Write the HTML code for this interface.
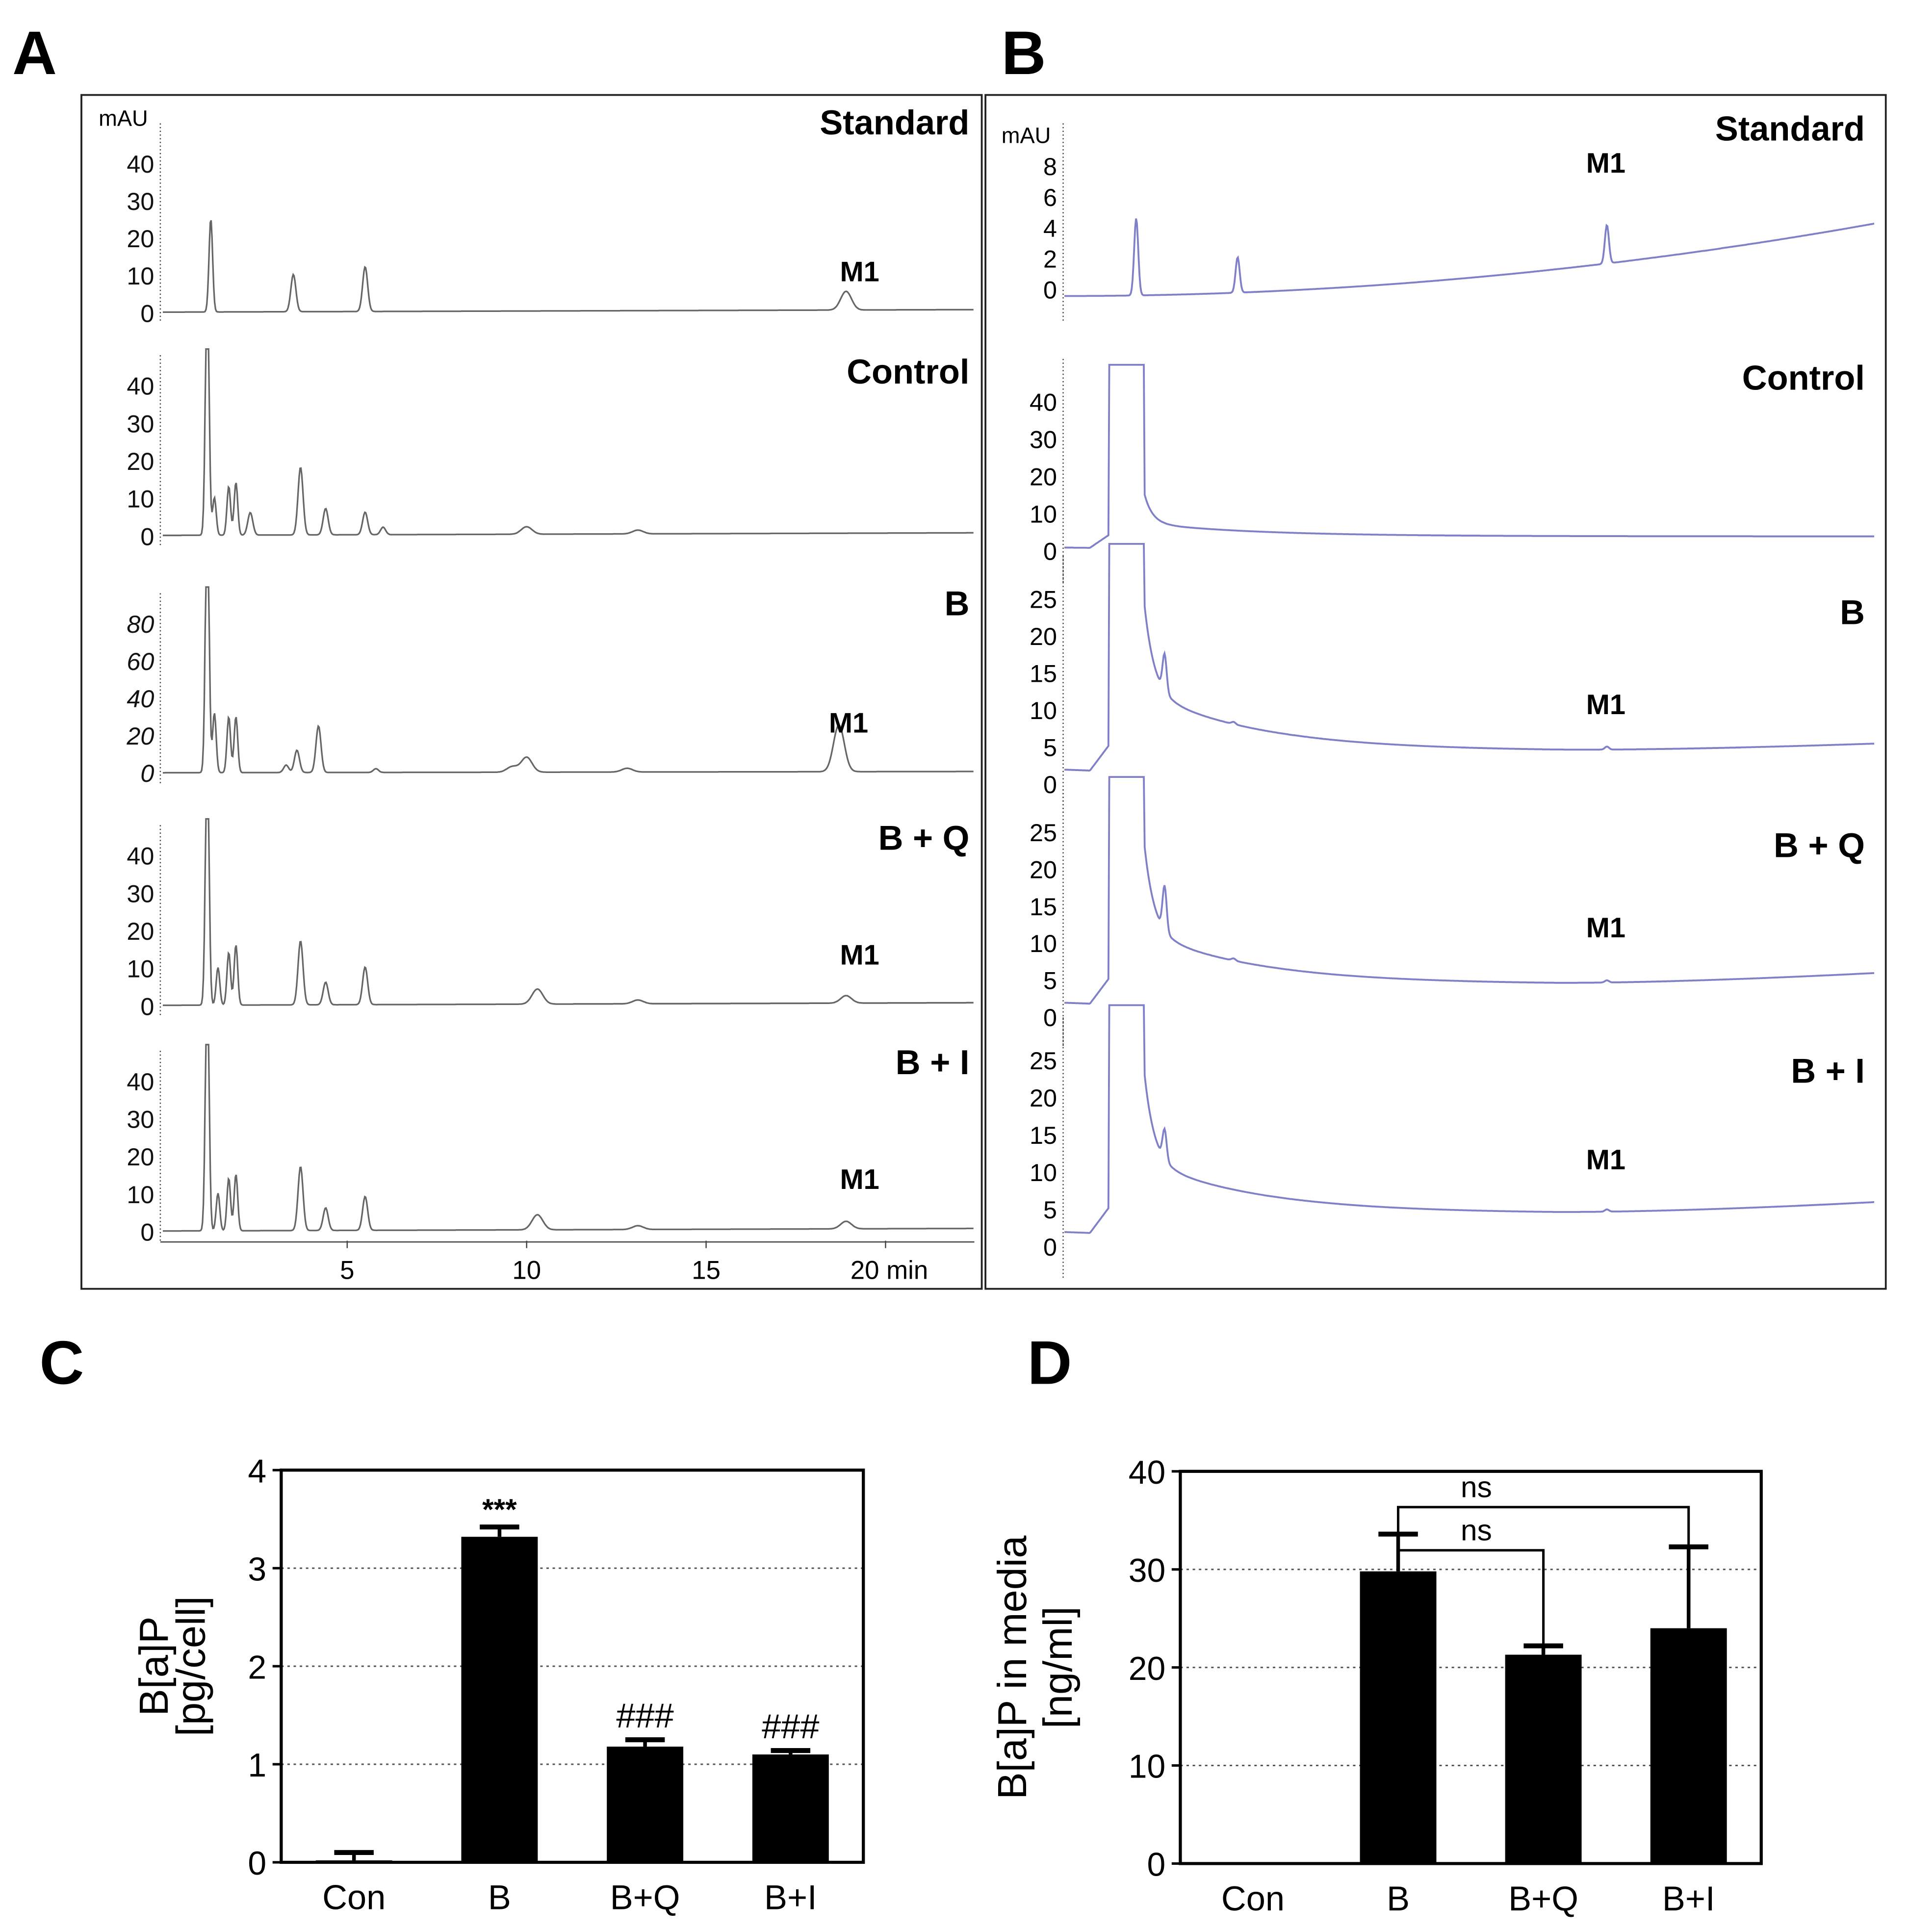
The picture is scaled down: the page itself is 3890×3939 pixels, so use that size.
<!DOCTYPE html>
<html><head><meta charset="utf-8"><style>
html,body{margin:0;padding:0;background:#fff;}
svg{display:block;font-family:"Liberation Sans",Arial,sans-serif;}
</style></head><body>
<svg id="fig" xmlns="http://www.w3.org/2000/svg" width="3890" height="3939" viewBox="0 0 1547 1566.5">
<rect width="1547" height="1566.5" fill="#fff"/>
<g font-weight="bold" font-size="50" fill="#000">
<text x="10" y="60">A</text>
<text x="812" y="60">B</text>
<text x="32" y="1122">C</text>
<text x="833" y="1122">D</text>
</g>
<rect x="66" y="77" width="730" height="968" fill="none" stroke="#222" stroke-width="1.5"/>
<rect x="799" y="77" width="730" height="968" fill="none" stroke="#222" stroke-width="1.5"/>
<g id="gA"></g><g id="gB"></g><g id="gC"></g><g id="gD"></g>
</svg>
<script>
// ---------- Panel A data (HPLC, time in min) ----------
const aNames = ["Standard","Control","B","B + Q","B + I"];
const aTicks = [[0,10,20,30,40],[0,10,20,30,40],[0,20,40,60,80],[0,10,20,30,40],[0,10,20,30,40]];
const aPeaksT = [[1.2,3.5,5.5,18.9],[1.1,1.3,1.7,1.9,2.3,3.7,4.4,5.5,6.0,10.0,13.1],[1.1,1.3,1.7,1.9,3.3,3.6,4.2,5.8,9.6,10.0,12.8,18.7],[1.1,1.4,1.7,1.9,3.7,4.4,5.5,10.3,13.1,18.9],[1.1,1.4,1.7,1.9,3.7,4.4,5.5,10.3,13.1,18.9]];
const aPeaksH = [[25,10,12,5],[70,10,13,14,6,18,7,6,2,2,1],[150,32,30,30,4,12,25,2,3,8,2,25],[70,10,14,16,17,6,10,4,1,2],[70,10,14,15,17,6,9,4,1,2]];
const aM1 = [true,false,true,true,true];
// ---------- Panel B data ----------
const bNames = ["Standard","Control","B","B + Q","B + I"];
const bTicks = [[0,2,4,6,8],[0,10,20,30,40],[0,5,10,15,20,25],[0,5,10,15,20,25],[0,5,10,15,20,25]];
const bBaseStart = [0,1,2,2,2];
const bBaseEnd = [4.5,4,5.5,6,6];
const bFront = [0,50,40,40,40];
const bDecay = [0,3.5,8,7,7];
const bBaseMin = [0,4,4.5,4.5,4.5];
const bPeaksT = [[0.09,0.215,0.67],[],[0.125,0.21,0.67],[0.125,0.21,0.67],[0.125,0.67]];
const bPeaksH = [[5,2.3,2.5],[],[5,0.3,0.4],[6,0.3,0.3],[4,0.3]];
const bM1 = [true,false,true,true,true];
// ---------- Panel C/D data ----------
const cats = ["Con","B","B+Q","B+I"];
const cVals = [0.02,3.32,1.18,1.1];
const cErr = [0.08,0.1,0.07,0.04];
const cAnn = ["","***","###","###"];
const cTicks = [0,1,2,3,4];
const dVals = [0,29.8,21.3,24.0];
const dErr = [0,3.8,0.9,8.3];
const dTicks = [0,10,20,30,40];

const NS="http://www.w3.org/2000/svg";
function mk(parent,tag,attrs,text){const e=document.createElementNS(NS,tag);for(const k in attrs)e.setAttribute(k,attrs[k]);if(text!==undefined)e.textContent=text;parent.appendChild(e);return e;}

// ===== Panel A =====
const gA=document.getElementById('gA');
const aZero=[254,435,627,816,999], aTop=[133,313,506,694,877];
const aLabY=[109,311,499,689,871], aM1Y=[228,594,782,964];
const ax0=136, axPerMin=29.1, aRight=790;
const tx=t=>ax0+t*axPerMin;
let m1i=0;
for(let i=0;i<5;i++){
  const g=mk(gA,'g',{});
  
  
  const tk=aTicks[i], vmax=tk[tk.length-1];
  const y=v=>aZero[i]-(v/vmax)*(aZero[i]-aTop[i]);
  const axTop = i==0?100:aTop[i]-25;
  const axl=mk(g,'line',{x1:130,x2:130,y1:axTop,y2:aZero[i]+8,stroke:'#444','stroke-width':1,'stroke-dasharray':'1 2'});
  
  tk.forEach(v=>{const t=mk(g,'text',{x:125,y:y(v)+7,'font-size':20,'text-anchor':'end',fill:'#111','font-style':i==2?'italic':'normal'},v);
    });
  let d='';
  for(let px=132;px<=aRight;px+=0.7){
    const t=(px-ax0)/axPerMin;let v=0.3+t*0.03;
    aPeaksT[i].forEach((pt,k)=>{const w=pt<2?0.05:(pt>9?0.15:0.07);v+=aPeaksH[i][k]*Math.exp(-((t-pt)**2)/(2*w*w));});
    let yy=Math.max(y(v),aTop[i]-30);
    d+=(d?'L':'M')+px.toFixed(1)+','+yy.toFixed(1);
  }
  const p=mk(g,'path',{d:d,fill:'none',stroke:'#666','stroke-width':1.3});
  
  const n=mk(g,'text',{x:786,y:aLabY[i],'font-size':28,'font-weight':'bold','text-anchor':'end'},aNames[i]);
  
  if(aM1[i]){const m=mk(g,'text',{x:i==2?688:697,y:aM1Y[m1i++],'font-size':23,'font-weight':'bold','text-anchor':'middle'},'M1');
    }
}
mk(gA,'text',{x:80,y:102,'font-size':18},'mAU');
[5,10,15,20].forEach(v=>{const t=mk(gA,'text',{x:tx(v)+(v==20?3:0),y:1037,'font-size':21,'text-anchor':'middle'},v==20?'20 min':v);
  
  mk(gA,'line',{x1:tx(v),x2:tx(v),y1:1006,y2:1012,stroke:'#444'});});
mk(gA,'line',{x1:130,x2:790,y1:1007,y2:1007,stroke:'#444','stroke-width':1});

// ===== Panel B =====
const gB=document.getElementById('gB');
const bZero=[235,447,636,825,1011], bTop=[135,326,486,675,860];
const bLabY=[114,316,506,695,878], bM1Y=[140,0,579,760,948];
const bx0=862,bx1=1520;
for(let i=0;i<5;i++){
  const g=mk(gB,'g',{});
  
  
  const tk=bTicks[i], vmax=tk[tk.length-1];
  const y=v=>bZero[i]-(v/vmax)*(bZero[i]-bTop[i]);
  mk(g,'line',{x1:bx0,x2:bx0,y1:i==0?100:bTop[i]-35,y2:bZero[i]+25,stroke:'#444','stroke-width':1,'stroke-dasharray':'1 2'});
  tk.forEach(v=>{const t=mk(g,'text',{x:857,y:y(v)+7,'font-size':20,'text-anchor':'end'},v);
    });
  let d='';
  for(let px=bx0+1;px<=bx1;px+=0.7){
    const f=(px-bx0)/(bx1-bx0);let v;
    if(i==0){v=-0.4+4.7*f*f;}
    else{
      const fs=0.068;
      if(f<fs-0.012) v=bBaseStart[i]*(1-f*2)+ (f>fs-0.035?(f-(fs-0.035))*150:0);
      else if(f<fs+0.032) v=bFront[i];
      else{const u=f-(fs+0.032);v=bBaseMin[i]+bDecay[i]*Math.exp(-u/0.14)+ (i==1?8*Math.exp(-u/0.01):12*Math.exp(-u/0.012))+(bBaseEnd[i]-bBaseMin[i])*Math.max(0,(f-0.6)/0.4)**1.5;}
    }
    bPeaksT[i].forEach((pt,k)=>{v+=bPeaksH[i][k]*Math.exp(-((f-pt)**2)/(2*0.0025*0.0025));});
    let yy=Math.max(y(v),bTop[i]-45);
    d+=(d?'L':'M')+px.toFixed(1)+','+yy.toFixed(1);
  }
  const p=mk(g,'path',{d:d,fill:'none',stroke:'#7f80c8','stroke-width':1.5});
  
  const n=mk(g,'text',{x:1512,y:bLabY[i],'font-size':28,'font-weight':'bold','text-anchor':'end'},bNames[i]);
  
  if(bM1[i]){const m=mk(g,'text',{x:1302,y:bM1Y[i],'font-size':23,'font-weight':'bold','text-anchor':'middle'},'M1');
    }
}
mk(gB,'text',{x:812,y:116,'font-size':18},'mAU');

// ===== Bar charts =====
function bars(gid,box,ticks,vals,errs,ylab1,ylab2,name,off1,off2){
  const g=document.getElementById(gid);
  const [L,T,R,B]=box, vmax=ticks[ticks.length-1];
  const y=v=>B-(v/vmax)*(B-T);
  const bw=(R-L)/cats.length, xc=k=>L+bw*(k+0.5);
  ticks.forEach(v=>{
    if(v>0&&v<vmax){const gl=mk(g,'line',{x1:L,x2:R,y1:y(v),y2:y(v),stroke:'#555','stroke-width':1.2,'stroke-dasharray':'2 3'});
      }
    mk(g,'line',{x1:L-7,x2:L,y1:y(v),y2:y(v),stroke:'#000','stroke-width':2});
    const t=mk(g,'text',{x:L-12,y:y(v)+10,'font-size':27,'text-anchor':'end'},v);
    
  });
  vals.forEach((v,k)=>{
    const x=xc(k),w=62;
    if(v>0){const r=mk(g,'rect',{x:x-w/2,y:y(v),width:w,height:B-y(v),fill:'#000'});
      }
    if(errs[k]>0){const top=y(v+errs[k]);
      mk(g,'line',{x1:x,x2:x,y1:top,y2:y(v),stroke:'#000','stroke-width':3});
      const e=mk(g,'line',{x1:x-16,x2:x+16,y1:top,y2:top,stroke:'#000','stroke-width':4});
      }
    const c=mk(g,'text',{x:x,y:B+38,'font-size':28,'text-anchor':'middle'},cats[k]);
    
  });
  const fr=mk(g,'rect',{x:L,y:T,width:R-L,height:B-T,fill:'none',stroke:'#000','stroke-width':2.5});
  
  const cy=(T+B)/2;
  const l1=mk(g,'text',{transform:`translate(${L-off1},${cy}) rotate(-90)`,'font-size':33,'text-anchor':'middle'},ylab1);
  
  if(ylab2){mk(g,'text',{transform:`translate(${L-off2},${cy}) rotate(-90)`,'font-size':33,'text-anchor':'middle'},ylab2);}
  return {g,y,xc};
}
const C=bars('gC',[228,1192,700,1510],cTicks,cVals,cErr,'B[a]P','[pg/cell]','chart-c',92,62);
cAnn.forEach((a,k)=>{if(!a)return;const t=mk(C.g,'text',{x:C.xc(k),y:C.y(cVals[k]+cErr[k])-(a=='***'?6:10),'font-size':a=='***'?24:28,'font-weight':a=='***'?'bold':'normal','text-anchor':'middle'},a);
  });
const D=bars('gD',[957,1193,1428,1511],dTicks,dVals,dErr,'B[a]P in media','[ng/ml]','chart-d',125,88);
function bracket(k1,k2,yTop,y1,y2){
  const p=mk(D.g,'path',{d:`M${D.xc(k1)},${y1}V${yTop}H${D.xc(k2)}V${y2}`,fill:'none',stroke:'#000','stroke-width':2});
  
  const t=mk(D.g,'text',{x:1197,y:yTop-8,'font-size':24,'text-anchor':'middle'},'ns');
  
}
bracket(1,3,1222,1252,1282);
bracket(1,2,1257,1268,1352);
</script>
</body></html>
